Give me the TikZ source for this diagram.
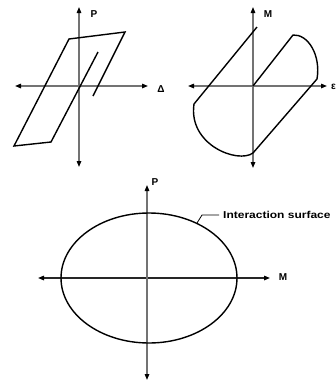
\documentclass[tikz,border=0pt]{standalone}
\usepackage{fontspec}
\setmainfont{Liberation Sans}
\usetikzlibrary{arrows.meta}
\begin{document}
\begin{tikzpicture}[x=1pt,y=-1pt,
  axis/.style={draw=black!55,line width=1.3pt,{Triangle[length=6pt,width=4.5pt,color=black]}-{Triangle[length=6pt,width=4.5pt,color=black]}},
  curve/.style={draw=black,line width=1.4pt,line join=miter},
  lbl/.style={font=\bfseries\fontsize{10}{11}\selectfont,inner sep=0pt}]
\useasboundingbox (0,0) rectangle (336,381);
% Panel 1
\draw[axis] (15,86) -- (148,86);
\draw[axis] (79,167) -- (79,7);
\draw[curve] (93,96) -- (125,32) -- (69,39) -- (14,146) -- (51,142) -- (98,52);
\node[lbl] (p1) at (94,14) {P};
\node[lbl] (d1) at (161,89) {Δ};
% Panel 2
\draw[axis] (188,86) -- (327,86);
\draw[axis] (253,168) -- (253,7);
\draw[curve] (253,86) -- (293,35) .. controls (308,34) and (321,55) .. (317,79)
  -- (253,153) .. controls (238,164) and (188,145) .. (194,104) -- (257,27);
\node[lbl] (m2) at (268,14) {M};
\node[lbl,anchor=west] (e2) at (331,87) {ε};
% Panel 3
\draw[axis,draw=black!85] (38,278) -- (270,278);
\draw[axis] (147,380) -- (147,185);
\draw[curve] (149,278) ellipse [x radius=88, y radius=65];
\node[lbl] (p3) at (155,182) {P};
\node[lbl] (m3) at (283,277) {M};
\node[lbl,anchor=west] (is) at (223,215) {\scalebox{1.2}[1]{Interaction surface}};
\coordinate (e3) at (197,223);
\draw[black,line width=0.8pt] (e3) -- (202,215) -- ([xshift=-4pt]is.west);
\end{tikzpicture}
\end{document}
